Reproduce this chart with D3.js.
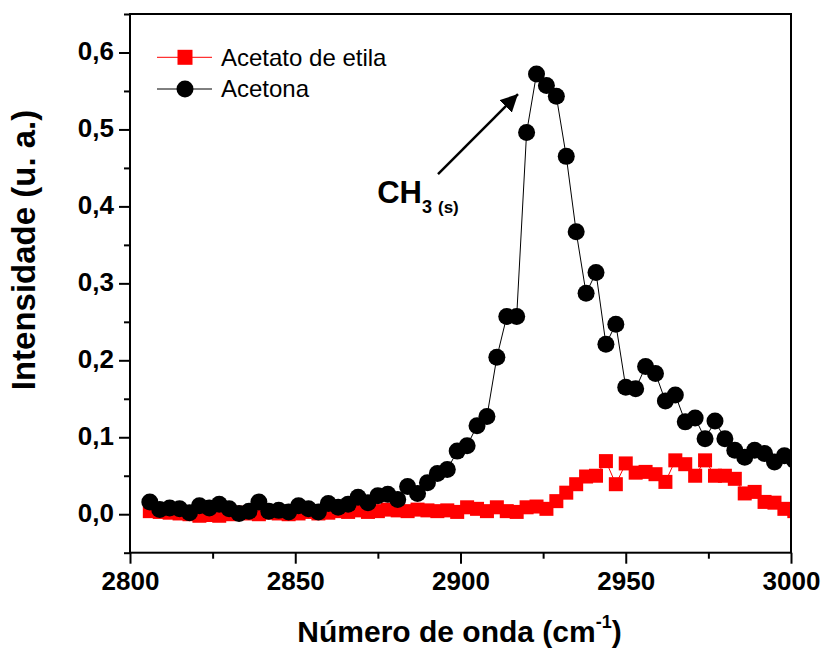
<!DOCTYPE html>
<html>
<head>
<meta charset="utf-8">
<script src="https://cdn.jsdelivr.net/npm/d3@7/dist/d3.min.js"></script>
<style>
  html, body { margin: 0; padding: 0; background: #fff; }
  svg { display: block; font-family: "Liberation Sans", Arial, Helvetica, sans-serif; }
</style>
</head>
<body>
<svg id="chart" width="822" height="651"></svg>
<script>
// Wavenumbers (cm-1) of the sampled points
const wavenumbers = [
  2806, 2809, 2812, 2815, 2818, 2821, 2824, 2827, 2830, 2833,
  2836, 2839, 2842, 2845, 2848, 2851, 2854, 2857, 2860, 2863,
  2866, 2869, 2872, 2875, 2878, 2881, 2884, 2887, 2890, 2893,
  2896, 2899, 2902, 2905, 2908, 2911, 2914, 2917, 2920, 2923,
  2926, 2929, 2932, 2935, 2938, 2941, 2944, 2947, 2950, 2953,
  2956, 2959, 2962, 2965, 2968, 2971, 2974, 2977, 2980, 2983,
  2986, 2989, 2992, 2995, 2998, 3001
];

// Intensity (u. a.) - ethyl acetate
const acetatoDeEtila = [
  0.004, 0.003, 0.002, 0.001, 0.000, -0.002, -0.001, -0.002, 0.000, 0.002,
  0.001, 0.000, 0.002, 0.001, 0.000, 0.001, 0.003, 0.001, 0.002, 0.004,
  0.003, 0.005, 0.003, 0.004, 0.006, 0.005, 0.004, 0.006, 0.005, 0.004,
  0.005, 0.003, 0.009, 0.007, 0.004, 0.009, 0.004, 0.003, 0.009, 0.010,
  0.007, 0.017, 0.028, 0.039, 0.049, 0.050, 0.069, 0.039, 0.066, 0.054,
  0.055, 0.052, 0.042, 0.070, 0.065, 0.050, 0.070, 0.050, 0.050, 0.046,
  0.027, 0.029, 0.016, 0.015, 0.007, 0.004
];

// Intensity (u. a.) - acetone
const acetona = [
  0.016, 0.006, 0.008, 0.007, 0.002, 0.011, 0.008, 0.013, 0.007, 0.001,
  0.004, 0.016, 0.004, 0.005, 0.003, 0.011, 0.007, 0.003, 0.014, 0.009,
  0.013, 0.022, 0.015, 0.024, 0.026, 0.019, 0.036, 0.027, 0.041, 0.053,
  0.058, 0.082, 0.089, 0.115, 0.127, 0.204, 0.257, 0.257, 0.496, 0.572,
  0.557, 0.543, 0.465, 0.367, 0.287, 0.314, 0.221, 0.247, 0.165, 0.163,
  0.192, 0.183, 0.147, 0.155, 0.120, 0.125, 0.098, 0.121, 0.098, 0.083,
  0.074, 0.083, 0.079, 0.068, 0.076, 0.070
];

const xTicks = [2800, 2850, 2900, 2950, 3000];
const xMinorTicks = [2825, 2875, 2925, 2975];
const yTicks = [0.0, 0.1, 0.2, 0.3, 0.4, 0.5, 0.6];
const yMinorTicks = [-0.05, 0.05, 0.15, 0.25, 0.35, 0.45, 0.55, 0.65];
const seriesNames = ["Acetato de etila", "Acetona"];

const FONT = "'Liberation Sans', Arial, Helvetica, sans-serif";
const svg = d3.select("#chart");
const plotLeft = 130, plotRight = 791, plotTop = 14, plotBottom = 552.7;

const x = d3.scaleLinear().domain([2800, 3000]).range([plotLeft, plotRight]);
const y = d3.scaleLinear().domain([-0.05, 0.65]).range([plotBottom, plotTop]);
const fmt = d => d3.format(".1f")(d).replace(".", ",");

const defs = svg.append("defs");
// clip area for the data
defs.append("clipPath").attr("id", "plotClip")
  .append("rect").attr("x", plotLeft).attr("y", plotTop)
  .attr("width", plotRight - plotLeft).attr("height", plotBottom - plotTop);

const data1 = wavenumbers.map((w, i) => ({ w, v: acetatoDeEtila[i] }));
const data2 = wavenumbers.map((w, i) => ({ w, v: acetona[i] }));
const line = d3.line().x(d => x(d.w)).y(d => y(d.v));

const plot = svg.append("g").attr("clip-path", "url(#plotClip)");

// ethyl acetate: red line + squares
const sq = 14;
plot.append("path").datum(data1).attr("d", line)
  .attr("fill", "none").attr("stroke", "#ff0000").attr("stroke-width", 1);
plot.append("g").selectAll("rect").data(data1).join("rect")
  .attr("x", d => x(d.w) - sq / 2).attr("y", d => y(d.v) - sq / 2)
  .attr("width", sq).attr("height", sq).attr("fill", "#ff0000");

// acetone: black line + circles
plot.append("path").datum(data2).attr("d", line)
  .attr("fill", "none").attr("stroke", "#000").attr("stroke-width", 1);
plot.append("g").selectAll("circle").data(data2).join("circle")
  .attr("cx", d => x(d.w)).attr("cy", d => y(d.v)).attr("r", 8.5)
  .attr("fill", "#000");

// axes
const xAxis = svg.append("g").attr("transform", `translate(0,${plotBottom})`)
  .call(d3.axisBottom(x).tickValues(xTicks).tickSize(11).tickPadding(8).tickFormat(d3.format("d")));
const xMinor = svg.append("g").attr("transform", `translate(0,${plotBottom})`)
  .call(d3.axisBottom(x).tickValues(xMinorTicks).tickSize(6).tickFormat(""));
const yAxis = svg.append("g").attr("transform", `translate(${plotLeft},0)`)
  .call(d3.axisLeft(y).tickValues(yTicks).tickSize(11).tickPadding(5).tickFormat(fmt));
const yMinor = svg.append("g").attr("transform", `translate(${plotLeft},0)`)
  .call(d3.axisLeft(y).tickValues(yMinorTicks).tickSize(6).tickFormat(""));

[xAxis, xMinor, yAxis, yMinor].forEach(g => {
  g.select(".domain").remove();
  g.selectAll("line").attr("stroke", "#000").attr("stroke-width", 2);
});
xAxis.selectAll("text").attr("font-size", 26).attr("font-weight", "bold")
  .attr("fill", "#000").attr("font-family", FONT);
yAxis.selectAll("text").attr("font-size", 26).attr("font-weight", "bold")
  .attr("fill", "#000").attr("font-family", FONT)
  .attr("dy", "0.28em");

// frame
svg.append("rect").attr("x", plotLeft).attr("y", plotTop)
  .attr("width", plotRight - plotLeft).attr("height", plotBottom - plotTop)
  .attr("fill", "none").attr("stroke", "#000").attr("stroke-width", 2);

// axis titles
svg.append("text").attr("transform", `translate(35,250) rotate(-90)`)
  .attr("text-anchor", "middle").attr("font-size", 33).attr("font-weight", "bold")
  .attr("font-family", FONT)
  .text("Intensidade (u. a.)");
const xt = svg.append("text").attr("x", (plotLeft + plotRight) / 2 - 1).attr("y", 642)
  .attr("text-anchor", "middle").attr("font-size", 30).attr("font-weight", "bold")
  .attr("font-family", FONT);
xt.append("tspan").text("Número de onda (cm");
xt.append("tspan").attr("font-size", 18).attr("dy", -14).text("-1");
xt.append("tspan").attr("dy", 14).text(")");

// annotation with arrow
defs.append("marker").attr("id", "arrowHead").attr("viewBox", "0 0 10 10")
  .attr("refX", 10).attr("refY", 5).attr("markerWidth", 7).attr("markerHeight", 7)
  .attr("markerUnits", "strokeWidth").attr("orient", "auto")
  .append("path").attr("d", "M0,0 L10,5 L0,10 z").attr("fill", "#000");
svg.append("line")
  .attr("x1", x(2893.2)).attr("y1", y(0.442))
  .attr("x2", x(2917.4)).attr("y2", y(0.546))
  .attr("stroke", "#000").attr("stroke-width", 2.5)
  .attr("marker-end", "url(#arrowHead)");
const ann = svg.append("text").attr("x", x(2874.8)).attr("y", y(0.404))
  .attr("font-size", 31).attr("font-weight", "bold").attr("font-family", FONT);
ann.append("tspan").text("CH");
ann.append("tspan").attr("font-size", 18).attr("dy", 10).text("3");
ann.append("tspan").attr("font-size", 17).attr("dx", 6).text("(s)");

// legend
const legend = svg.append("g");
const legendRows = [
  { name: seriesNames[0], color: "#ff0000", shape: "square", cy: 57.3 },
  { name: seriesNames[1], color: "#000", shape: "circle", cy: 89 }
];
legendRows.forEach(r => {
  legend.append("line").attr("x1", 157).attr("x2", 212)
    .attr("y1", r.cy).attr("y2", r.cy).attr("stroke", r.color).attr("stroke-width", 1);
  if (r.shape === "square") {
    legend.append("rect").attr("x", 185 - 7.5).attr("y", r.cy - 7.5)
      .attr("width", 15).attr("height", 15).attr("fill", r.color);
  } else {
    legend.append("circle").attr("cx", 185).attr("cy", r.cy).attr("r", 8.5).attr("fill", r.color);
  }
  legend.append("text").attr("x", 221).attr("y", r.cy + 8.4)
    .attr("font-size", 24).attr("fill", "#000").attr("font-family", FONT).text(r.name);
});
</script>
</body>
</html>
